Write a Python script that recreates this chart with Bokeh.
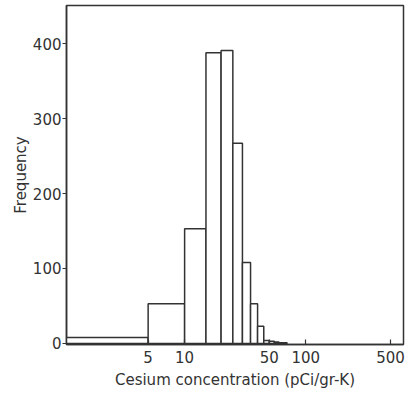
from bokeh.plotting import figure
from bokeh.models import FixedTicker, Range1d
from bokeh.embed import file_html
from bokeh.resources import INLINE

# Histogram data (bin edges in pCi/gr-K, counts)
bin_left = [1, 5, 10, 15, 20, 25, 30, 35, 40, 45, 50, 55, 60, 65]
bin_right = [5, 10, 15, 20, 25, 30, 35, 40, 45, 50, 55, 60, 65, 70]
counts = [8, 53, 153, 388, 391, 267, 108, 53, 23, 4, 3, 2, 1, 1]

x_ticks = [5, 10, 50, 100, 500]
y_ticks = [0, 100, 200, 300, 400]

FONT = "DejaVu Sans"
INK = "#333333"

p = figure(width=405, height=401, x_axis_type="log",
           x_range=Range1d(1.06, 640), y_range=Range1d(-1.5, 451),
           output_backend="svg", toolbar_location=None,
           min_border_left=66, min_border_right=2, min_border_top=5, min_border_bottom=57)

p.quad(left=bin_left, right=bin_right, bottom=0, top=counts,
       fill_color="white", line_color=INK, line_width=1.5)

p.xgrid.visible = False
p.ygrid.visible = False
p.outline_line_color = INK
p.outline_line_width = 1.5
p.background_fill_color = "white"
p.border_fill_color = "white"

p.xaxis.ticker = FixedTicker(ticks=x_ticks)
p.xaxis.major_label_overrides = {t: str(t) for t in x_ticks}
p.xaxis.minor_tick_line_color = None
p.xaxis.major_tick_in = 5
p.xaxis.major_tick_out = 0
p.xaxis.axis_label = "Cesium concentration (pCi/gr-K)"

p.yaxis.ticker = FixedTicker(ticks=y_ticks)
p.yaxis.minor_tick_line_color = None
p.yaxis.major_tick_in = 0
p.yaxis.major_tick_out = 4
p.yaxis.axis_label = "Frequency"

for ax in (p.xaxis[0], p.yaxis[0]):
    ax.axis_line_color = INK
    ax.axis_line_width = 1.5
    ax.major_tick_line_color = INK
    ax.major_tick_line_width = 1.2
    ax.major_label_text_font = FONT
    ax.major_label_text_font_size = "15px"
    ax.major_label_text_color = INK
    ax.axis_label_text_font = FONT
    ax.axis_label_text_font_size = "15px"
    ax.axis_label_text_font_style = "normal"
    ax.axis_label_text_color = INK

p.xaxis.major_label_standoff = 6
p.xaxis.axis_label_standoff = 5
p.yaxis.major_label_standoff = 1
p.yaxis.axis_label_standoff = 0

open("out.html", "w").write(file_html(p, INLINE))
